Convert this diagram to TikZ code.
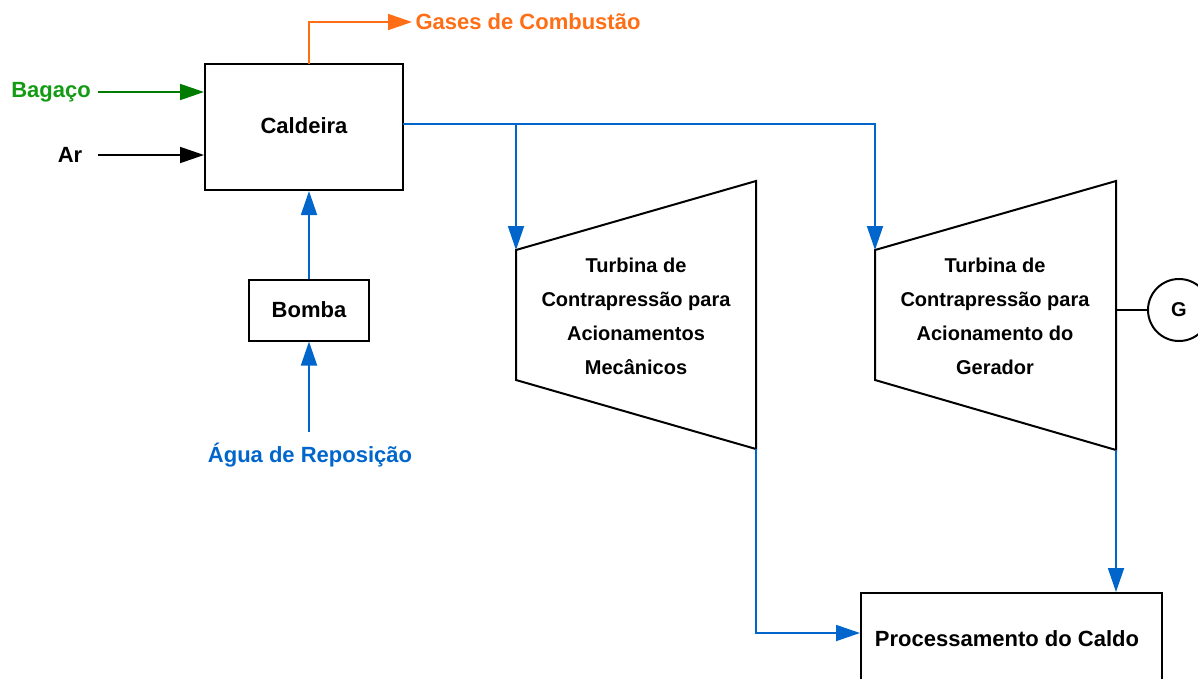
\documentclass[tikz,border=0pt]{standalone}
\usepackage{fontspec}
\setmainfont{Liberation Sans}
\usetikzlibrary{arrows.meta}
\definecolor{stm}{RGB}{0,102,204}
\definecolor{gasc}{RGB}{255,110,20}
\definecolor{bagtxt}{RGB}{20,155,20}
\definecolor{bagarr}{RGB}{0,125,0}
\begin{document}
\begin{tikzpicture}[x=1pt,y=-1pt,
  font=\bfseries\fontsize{22}{26}\selectfont,
  box/.style={draw=black, line width=2pt, fill=white, align=center},
  tip/.style={-{Triangle[length=24pt,width=16pt]}},
  flow/.style={tip, draw=stm, line width=1.8pt},
  shape line/.style={draw=black, line width=2pt, line join=miter},
  turbtext/.style={align=center, font=\bfseries\fontsize{20}{34}\selectfont}]
\useasboundingbox (0,0) rectangle (1198,678);

% nodes
\node[box, minimum width=198pt, minimum height=126pt] (cal) at (304,127) {\raisebox{3pt}{Caldeira}};
\node[box, minimum width=120pt, minimum height=61pt] (bomba) at (309,310) {Bomba};
\node[box, minimum width=301pt, minimum height=88pt, anchor=north west] (proc) at (860,592) {};
\node at (1007,639) (proclbl) {Processamento do Caldo};
\node[text=bagtxt] (bag) at (51,92) {Bagaço};
\node (ar) at (70,155) {Ar};
\node[text=gasc, anchor=west] (gas) at (412,22) {Gases de Combustão};
\node[text=stm] (agua) at (310,455) {Água de Reposição};
\node[circle, draw=black, line width=2pt, minimum size=62pt, inner sep=0pt, font=\bfseries\fontsize{20}{24}\selectfont] (G) at (1179,310) {G};

% turbines
\coordinate (t1a) at (516,250); \coordinate (t1b) at (756,181);
\coordinate (t1c) at (756,449); \coordinate (t1d) at (516,380);
\coordinate (t2a) at (875,250); \coordinate (t2b) at (1116,181);
\coordinate (t2c) at (1116,450); \coordinate (t2d) at (875,380);
\coordinate (t2m) at (1116,310);
\draw[shape line] (t1a) -- (t1b) -- (t1c) -- (t1d) -- cycle;
\draw[shape line] (t2a) -- (t2b) -- (t2c) -- (t2d) -- cycle;
\node[turbtext] (tm) at (636,316) {Turbina de\\Contrapressão para\\Acionamentos\\Mecânicos};
\node[turbtext] (tg) at (995,316) {Turbina de\\Contrapressão para\\Acionamento do\\Gerador};

% coordinates for connectors
\coordinate (s0) at (403,124);
\coordinate (j1) at (516,124);
\coordinate (j2) at (875,124);
\coordinate (g0) at (309,64);
\coordinate (bagS) at (98,92);
\coordinate (arS) at (98,155);
\coordinate (aguaS) at (309,432);

% connectors
\draw[flow] (s0) -- (j2) -- (t2a);
\draw[flow] (j1) -- (t1a);
\draw[flow] (t1c) -- (t1c |- 0,633) -- (proc.west |- 0,633);
\draw[flow] (t2c) -- (t2c |- proc.north);
\draw[flow] (bomba.north) -- (bomba.north |- cal.south);
\draw[flow] (aguaS) -- (aguaS |- bomba.south);
\draw[tip, draw=gasc, line width=1.8pt] (g0) |- (gas.west);
\draw[tip, draw=bagarr, line width=1.8pt] (bagS) -- (bagS -| cal.west);
\draw[tip, draw=black, line width=1.8pt] (arS) -- (arS -| cal.west);
\draw[draw=black, line width=1.8pt] (t2m) -- (G.west);
\end{tikzpicture}
\end{document}
